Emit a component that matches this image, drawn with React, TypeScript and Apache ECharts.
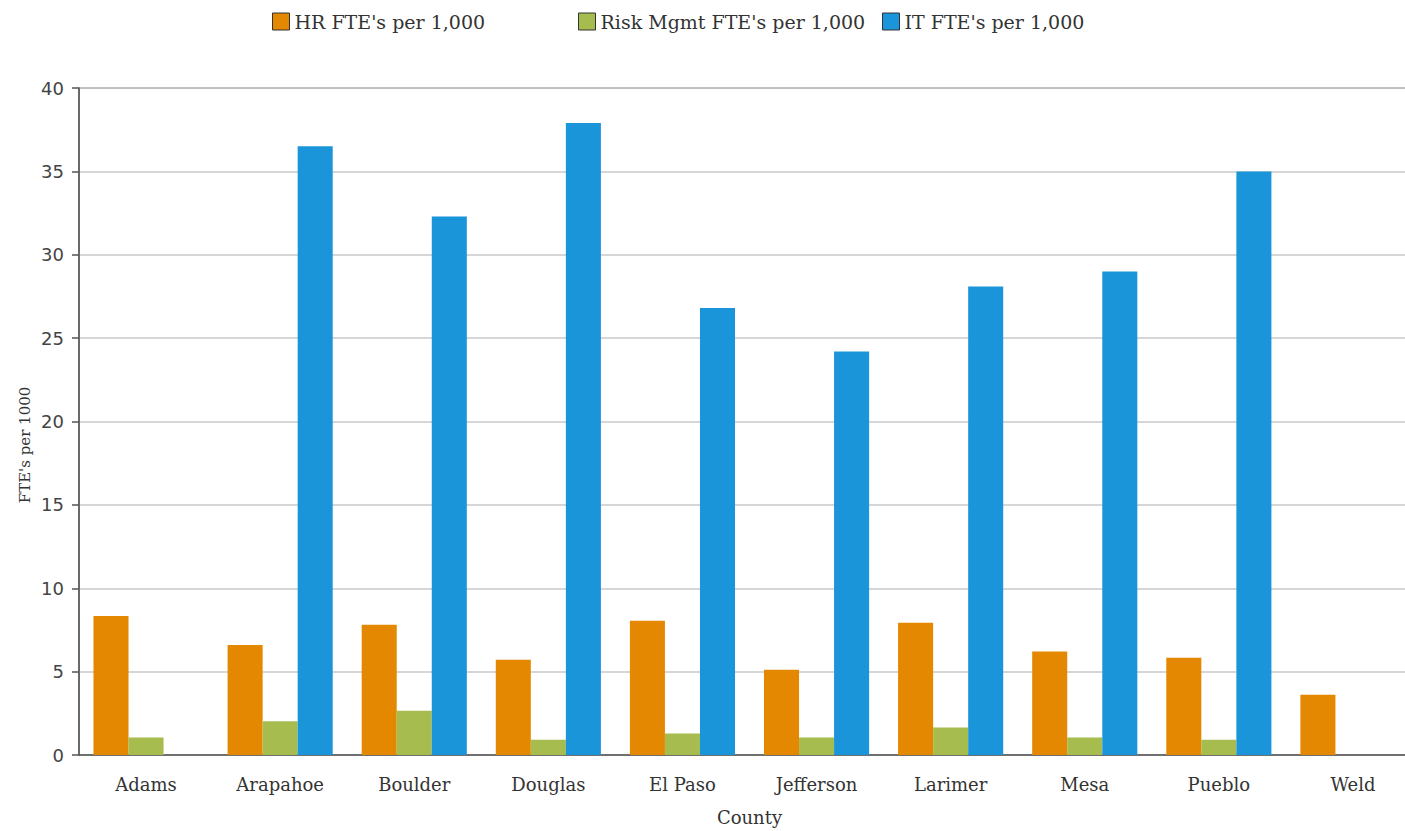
import React, { useEffect, useRef } from "react";
import * as echarts from "echarts";

const counties = ["Adams", "Arapahoe", "Boulder", "Douglas", "El Paso", "Jefferson", "Larimer", "Mesa", "Pueblo", "Weld"];
const hrValues = [8.33, 6.59, 7.81, 5.71, 8.05, 5.11, 7.93, 6.21, 5.83, 3.61];
const riskValues = [1.05, 2.03, 2.65, 0.91, 1.29, 1.05, 1.65, 1.05, 0.91, 0];
const itValues = [0, 36.5, 32.3, 37.9, 26.8, 24.2, 28.1, 29.0, 35.0, 0];
const seriesNames = ["HR FTE's per 1,000", "Risk Mgmt FTE's per 1,000", "IT FTE's per 1,000"];
const colors = ["#E38800", "#A6BC4F", "#1B95D9"];
const yTitle = "FTE's per 1000";
const xTitle = "County";

export default function App() {
  const ref = useRef<HTMLDivElement>(null);
  useEffect(() => {
    if (!ref.current) return;
    const chart = echarts.init(ref.current, null, { renderer: "svg" });
    const legendFont = { fontFamily: "DejaVu Serif", fontSize: 19, color: "#333" };
    const legendLefts = [272, 578, 882];
    chart.setOption({
      animation: false,
      backgroundColor: "#fff",
      color: colors,
      legend: seriesNames.map((n, i) => ({
        data: [n],
        left: legendLefts[i],
        top: 12,
        icon: "rect",
        itemWidth: 17,
        itemHeight: 17,
        itemGap: 0,
        padding: 0,
        itemStyle: { borderColor: "#333", borderWidth: 1 },
        textStyle: legendFont,
      })),
      grid: {
        left: 79,
        top: 88,
        width: 1341,
        height: 667,
        outerBoundsMode: "none",
        containLabel: false,
        show: true,
        borderColor: "#555",
        borderWidth: 1,
      },
      xAxis: {
        type: "category",
        data: counties,
        axisLine: { lineStyle: { color: "#555", width: 1.5 } },
        axisTick: { alignWithLabel: true, length: 7, lineStyle: { color: "#555", width: 1.5 } },
        axisLabel: { fontFamily: "DejaVu Serif", fontSize: 18, color: "#333", margin: 20 },
        name: xTitle,
        nameLocation: "middle",
        nameGap: 53,
        nameTextStyle: { fontFamily: "DejaVu Serif", fontSize: 18, color: "#333" },
      },
      yAxis: {
        type: "value",
        min: 0,
        max: 40,
        interval: 5,
        axisLine: { show: true, lineStyle: { color: "#555", width: 1.5 } },
        axisTick: { show: true, length: 7, lineStyle: { color: "#555", width: 1.5 } },
        axisLabel: { fontFamily: "DejaVu Sans", fontSize: 18, color: "#444", margin: 15 },
        splitLine: { lineStyle: { color: "#c8c8c8", width: 1.5 } },
      },
      graphic: [
        {
          type: "text",
          x: 25,
          y: 445,
          rotation: Math.PI / 2,
          style: {
            text: yTitle,
            fontFamily: "DejaVu Serif",
            fontSize: 15,
            fill: "#333",
            textAlign: "center",
            textVerticalAlign: "middle",
          },
        },
      ],
      series: [hrValues, riskValues, itValues].map((d, i) => ({
        name: seriesNames[i],
        type: "bar",
        data: d,
        barGap: "0%",
        barCategoryGap: "21.6%",
        itemStyle: { color: colors[i] },
      })),
    });
    return () => chart.dispose();
  }, []);
  return <div ref={ref} style={{ position: "fixed", left: 0, top: 0, width: 1405, height: 831 }} />;
}
